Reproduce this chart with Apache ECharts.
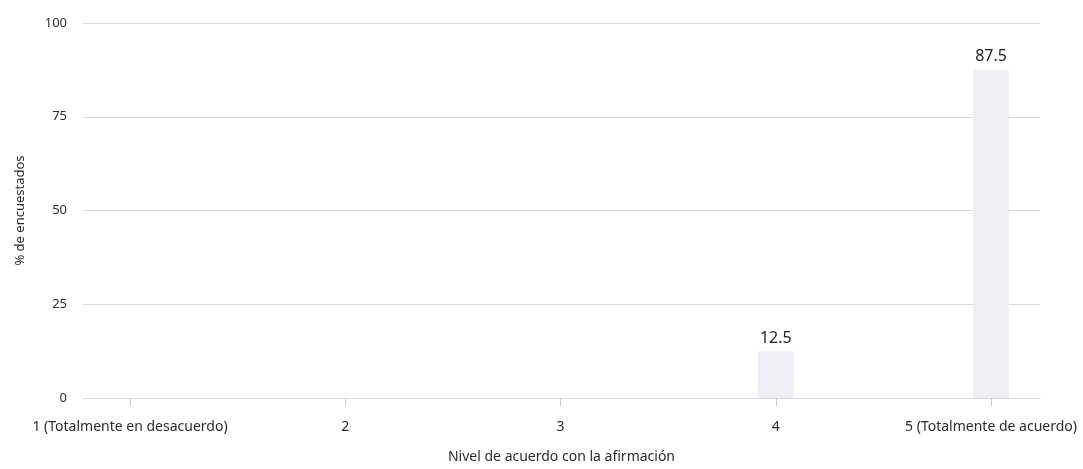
<!DOCTYPE html>
<html>
<head>
<meta charset="utf-8">
<script src="https://cdn.jsdelivr.net/npm/echarts@6/dist/echarts.min.js"></script>
<style>html,body{margin:0;padding:0;background:#fff}#c{width:1083px;height:469px}</style>
</head>
<body>
<div id="c"></div>
<script>
const categories = ['1 (Totalmente en desacuerdo)', '2', '3', '4', '5 (Totalmente de acuerdo)'];
const levels = [1, 2, 3, 4, 5];
const values = [0, 0, 0, 12.5, 87.5];
const yTicks = [0, 25, 50, 75, 100];

const font = 'Noto Sans';
const chart = echarts.init(document.getElementById('c'));
chart.setOption({
  animation: false,
  textStyle: { fontFamily: font },
  grid: { left: 83, right: 43, top: 23, bottom: 66, containLabel: false },
  xAxis: {
    type: 'value',
    min: 0.7816,
    max: 5.2276,
    name: 'Nivel de acuerdo con la afirmación',
    nameLocation: 'middle',
    nameGap: 52,
    nameTextStyle: { color: '#2b2b2b', fontSize: 14, fontFamily: font },
    splitLine: { show: false },
    axisLine: { show: true, lineStyle: { color: '#dcdcdc', width: 1 } },
    axisTick: { show: true, customValues: levels, length: 8, lineStyle: { color: '#cccccc' } },
    axisLabel: {
      customValues: levels,
      margin: 22,
      color: '#2b2b2b',
      fontSize: 14,
      fontFamily: font,
      formatter: function (v) { return categories[levels.indexOf(Math.round(v))] || ''; }
    }
  },
  yAxis: {
    type: 'value',
    min: 0,
    max: 100,
    interval: 25,
    name: '% de encuestados',
    nameLocation: 'middle',
    nameGap: 56,
    nameTextStyle: { color: '#2b2b2b', fontSize: 13, fontFamily: font },
    axisLine: { show: false },
    axisTick: { show: false },
    axisLabel: { margin: 16, color: '#2b2b2b', fontSize: 13, fontFamily: font,
      formatter: function (v) { return yTicks.indexOf(v) >= 0 ? String(v) : ''; } },
    splitLine: { show: true, lineStyle: { color: '#dcdcdc', width: 1 } }
  },
  series: [{
    type: 'bar',
    barWidth: 36,
    data: levels.map(function (l, i) { return values[i] > 0 ? [l, values[i]] : null; }).filter(Boolean),
    itemStyle: { color: '#eeeef5', borderRadius: [3, 3, 0, 0] },
    label: {
      show: true,
      position: 'top',
      distance: 5,
      color: '#222',
      fontSize: 16,
      fontFamily: font,
      formatter: function (p) { return p.value[1].toFixed(1); }
    }
  }]
});
</script>
</body>
</html>
